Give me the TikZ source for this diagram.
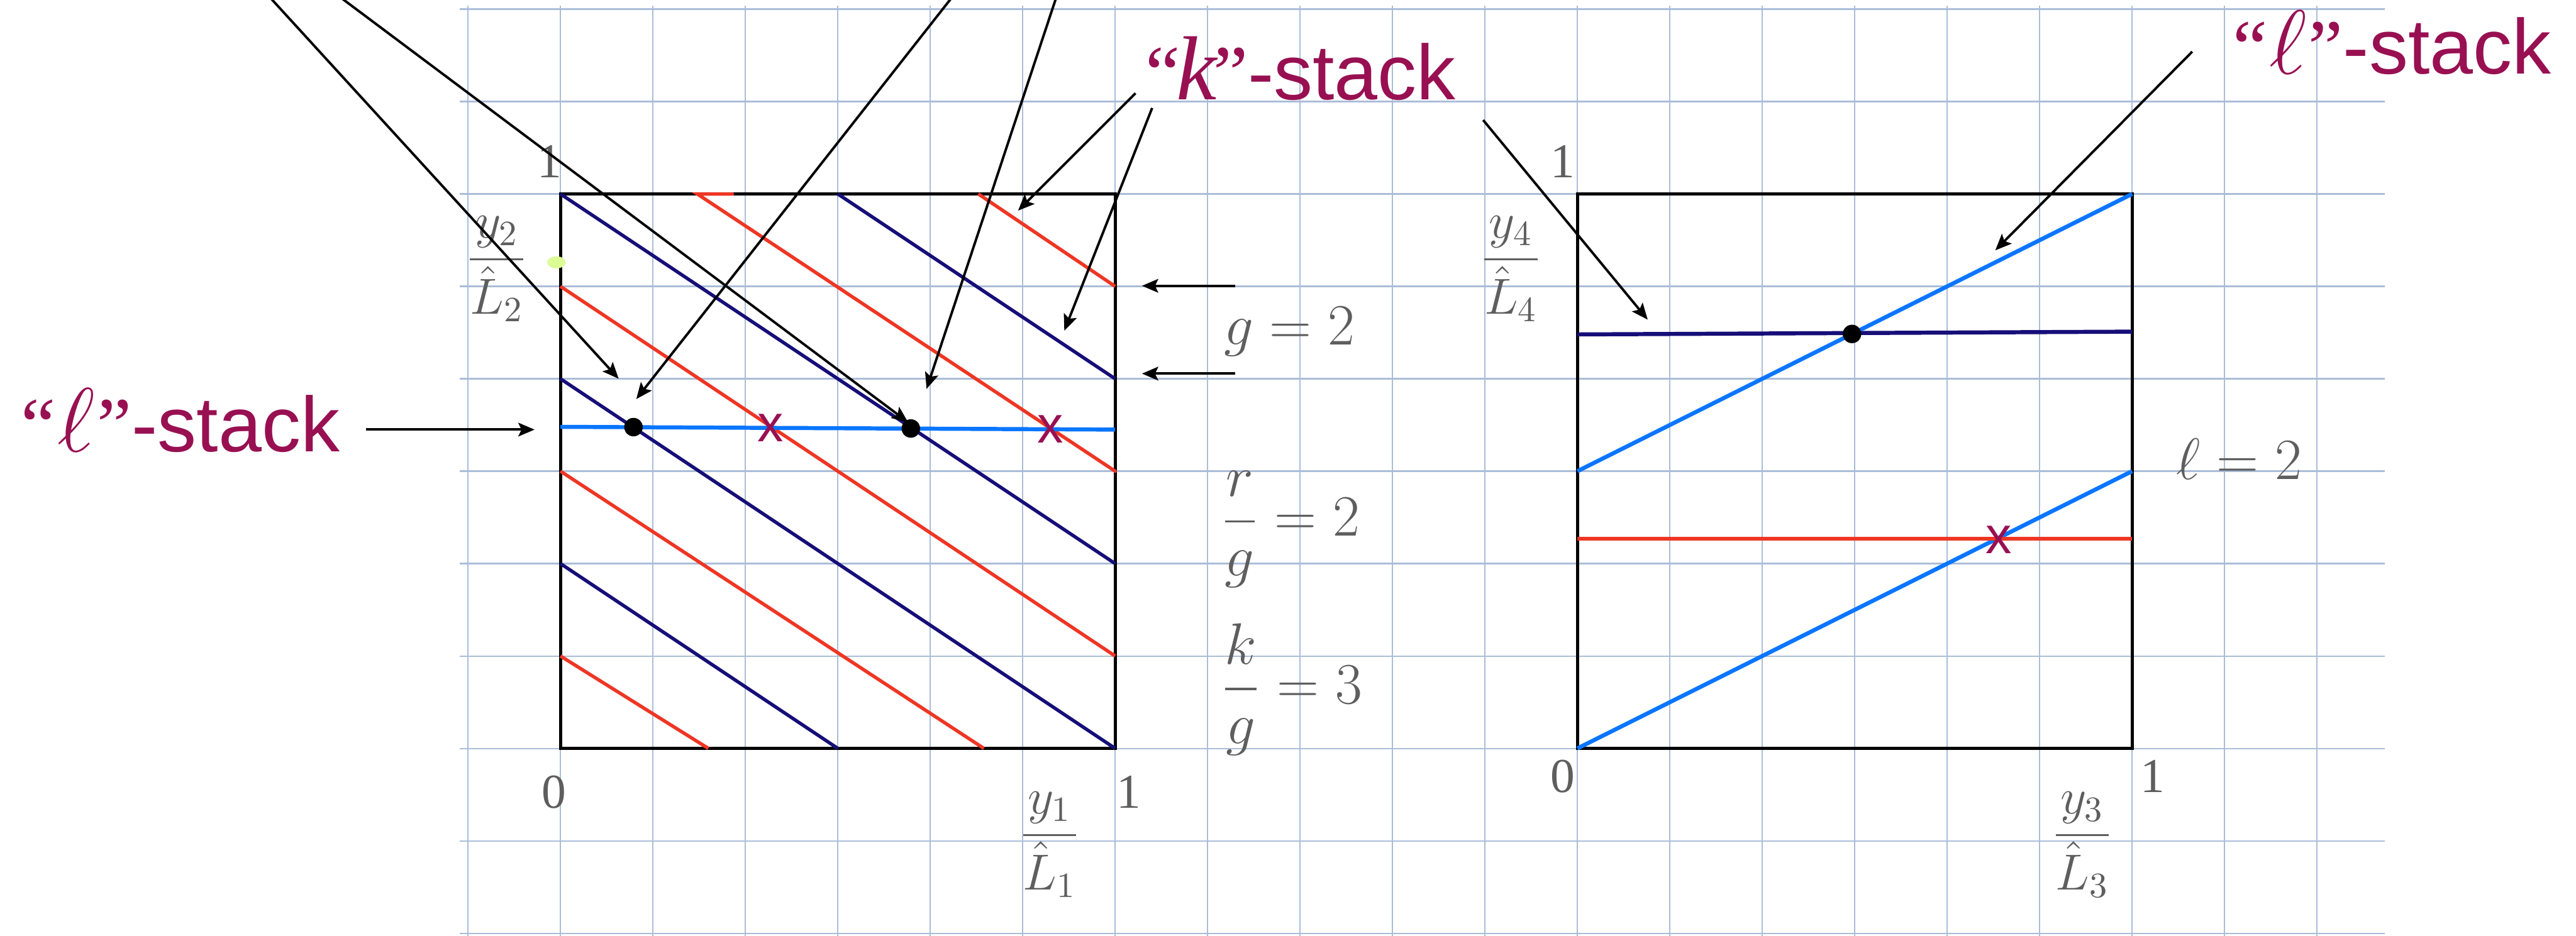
\RequirePackage{fix-cm}
\documentclass[tikz,border=0pt]{standalone}
\usepackage{amsmath}
\usepackage{fontspec}
\usepackage{xcolor}
\definecolor{navy3}{RGB}{22,14,120}
\definecolor{red3}{RGB}{238,54,36}
\definecolor{sky3}{RGB}{10,118,255}
\definecolor{plum3}{RGB}{152,16,82}
\definecolor{gray3}{RGB}{94,94,94}
\definecolor{grid3}{RGB}{170,189,216}
\definecolor{lime3}{RGB}{220,252,150}
\newfontfamily\stacksans{Liberation Sans}
\newfontfamily\quoteserif{Liberation Serif}
\usepackage{tikz}
\usetikzlibrary{arrows.meta}
\newcommand{\Lhat}[1]{\hat{L}_{#1}}
\newcommand{\stacklbl}[2][-1.1pt]{{\quoteserif\fontsize{24}{28}\selectfont “\kern#1{\fontsize{28}{30}\selectfont #2}\kern#1”}{\stacksans\fontsize{24}{28}\selectfont -stack}}

\begin{document}
\begin{tikzpicture}[scale=1.0, >=Stealth,
  gridline/.style={grid3, line width=0.42pt},
  boxline/.style={black, line width=1.0pt},
  kline/.style={navy3, line width=1.05pt},
  rline/.style={red3, line width=1.05pt},
  lline/.style={sky3, line width=1.25pt},
  ptr/.style={-{Stealth[length=5pt, width=4.2pt, inset=1pt]}, line width=0.75pt},
  eqlbl/.style={gray3, font=\fontsize{18}{20}\selectfont, inner sep=0pt},
  ticklbl/.style={gray3, font=\fontsize{15.6}{18}\selectfont, inner sep=0pt},
  numlbl/.style={gray3, font=\quoteserif\fontsize{15}{18}\selectfont, inner sep=0pt},
  dotmark/.style={circle, fill=black, inner sep=0pt, minimum size=0.2cm},
  xmark/.style={plum3, font=\stacksans\fontsize{16}{18}\selectfont, inner sep=0pt},
  stacktag/.style={plum3, inner sep=0pt, anchor=base west}]
  \useasboundingbox (-5.062,-0.025) rectangle (22.801,10.099);

  % Squared paper
  \draw[gridline] (-0.09,-0.1) grid (20.73,10.04);

  % Left square and right square
  \draw[boxline] (1,2) rectangle (7,8);
  \draw[boxline] (12,2) rectangle (18,8);

  % Left square: k-stack lines (navy) and r lines (red)
  \draw[kline] (1,4) -- (4,2);
  \draw[kline] (1,6) -- (7,2);
  \draw[kline] (1,8) -- (7,4);
  \draw[kline] (4,8) -- (7,6);
  \draw[rline] (1,3) -- (2.6,2);
  \draw[rline] (1,5) -- (5.58,2);
  \draw[rline] (1,7) -- (7,3);
  \draw[rline, line cap=round] (2.86,8) -- (2.48,8) -- (7,5);
  \draw[rline] (5.52,8) -- (7,7);

  % Left square: the l-stack line
  \draw[lline] (1,5.48) -- (7,5.45);
  \node[dotmark] (meetA) at (1.79,5.477) {};
  \node[dotmark] (meetB) at (4.79,5.462) {};
  \node[xmark] (missA) at (3.27,5.47) {x};
  \node[xmark] (missB) at (6.30,5.455) {x};

  % Right square: l-stack lines, one k line, one r line
  \draw[lline] (12,2) -- (18,5);
  \draw[lline] (12,5) -- (18,8);
  \draw[kline, line width=1.25pt] (12,6.48) -- (18,6.51);
  \draw[rline, line width=1.25pt] (12,4.27) -- (18,4.27);
  \node[dotmark] (meetC) at (14.97,6.485) {};
  \node[xmark] (missC) at (16.56,4.26) {x};

  % small green dot by the y2 axis
  \fill[lime3] (0.957,7.26) ellipse (0.1 and 0.065);

  % Axis labels, left square
  \node[numlbl] (oneTL) at (0.88,8.35) {1};
  \node[numlbl] (zeroL) at (0.93,1.53) {0};
  \node[numlbl] (oneBL) at (7.15,1.53) {1};
  \node[ticklbl] (fracTwo) at (0.31,7.19) {$\dfrac{y_2}{\Lhat{2}}$};
  \node[ticklbl] (fracOne) at (6.29,0.96) {$\dfrac{y_1}{\Lhat{1}}$};

  % Axis labels, right square
  \node[numlbl] (oneTR) at (11.84,8.35) {1};
  \node[numlbl] (zeroR) at (11.84,1.70) {0};
  \node[numlbl] (oneBR) at (18.22,1.70) {1};
  \node[ticklbl] (fracFour) at (11.28,7.19) {$\dfrac{y_4}{\Lhat{4}}$};
  \node[ticklbl] (fracThree) at (17.46,0.96) {$\dfrac{y_3}{\Lhat{3}}$};

  % Values
  \node[eqlbl, anchor=base west] (gEq) at (8.17,6.37) {$g = 2$};
  \node[eqlbl, anchor=west] (rEq) at (8.14,4.37) {$\dfrac{r}{g} = 2$};
  \node[eqlbl, anchor=west] (kEq) at (8.14,2.64) {$\dfrac{k}{g} = 3$};
  \node[eqlbl, anchor=base west] (lEq) at (18.47,4.91) {$\ell = 2$};

  % Stack labels
  \node[stacktag] (lstackL) at (-4.84,5.21) {\stacklbl[0.6pt]{$\ell$}};
  \node[stacktag] (kstack) at (7.32,9.02) {\stacklbl{\itshape k}};
  \node[stacktag] (lstackR) at (19.08,9.30) {\stacklbl[0.6pt]{$\ell$}};

  % Pointer ends
  \coordinate (lsTail) at (-1.10,5.45);
  \coordinate (lsTip) at (0.72,5.45);
  \coordinate (ksTailA) at (7.22,9.09);
  \coordinate (ksTipA) at (5.95,7.82);
  \coordinate (ksTailB) at (7.40,8.93);
  \coordinate (ksTipB) at (6.45,6.52);
  \coordinate (ksTailC) at (10.98,8.80);
  \coordinate (ksTipC) at (12.76,6.64);
  \coordinate (lrTail) at (18.65,9.54);
  \coordinate (lrTip) at (16.52,7.39);
  \coordinate (gTailA) at (8.30,7.006);
  \coordinate (gTipA) at (7.29,7.006);
  \coordinate (gTailB) at (8.30,6.056);
  \coordinate (gTipB) at (7.29,6.056);

  % Pointers
  \draw[ptr] (lsTail) -- (lsTip);
  \draw[ptr] (ksTailA) -- (ksTipA);
  \draw[ptr] (ksTailB) -- (ksTipB);
  \draw[ptr] (ksTailC) -- (ksTipC);
  \draw[ptr] (lrTail) -- (lrTip);
  \draw[ptr] (gTailA) -- (gTipA);
  \draw[ptr] (gTailB) -- (gTipB);

  % Long pointers coming in from above the page
  \coordinate (upA) at (-2.30,10.3);
  \coordinate (upB) at (-1.61,10.3);
  \coordinate (upC) at (5.37,10.3);
  \coordinate (upD) at (6.42,10.3);
  \coordinate (downA) at (1.63,6.00);
  \coordinate (downB) at (4.76,5.53);
  \coordinate (downC) at (1.82,5.78);
  \coordinate (downD) at (4.96,5.89);
  \draw[ptr] (upA) -- (downA);
  \draw[ptr] (upB) -- (downB);
  \draw[ptr] (upC) -- (downC);
  \draw[ptr] (upD) -- (downD);
\end{tikzpicture}
\end{document}
